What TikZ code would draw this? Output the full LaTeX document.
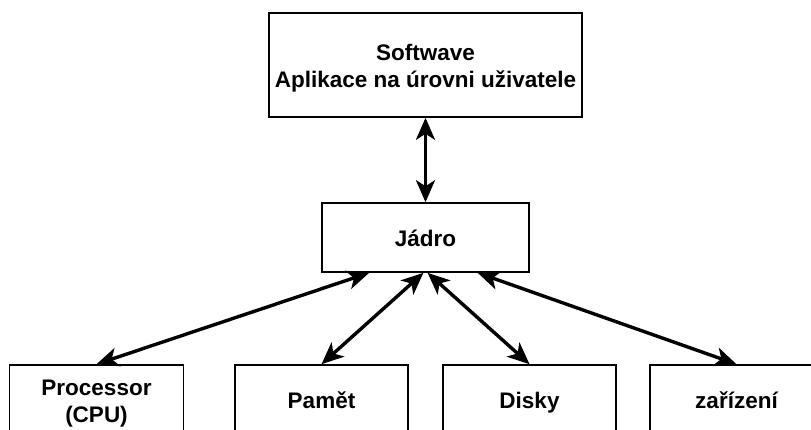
\documentclass[tikz,border=0pt]{standalone}
\usepackage{fontspec}
\setmainfont{Liberation Sans}
\usetikzlibrary{arrows.meta,calc}
% line strut that sits the text a little low in its line
\newcommand{\lstrut}{\rule[-4.6pt]{0pt}{27pt}}
\tikzset{
  box/.style={draw=black, line width=1.6pt, fill=white, rectangle, align=center,
    inner sep=0pt, font=\fontsize{22.5}{27}\selectfont\bfseries},
  link/.style={line width=3.4pt, {Stealth[length=22pt,width=19pt,inset=6pt]}-{Stealth[length=22pt,width=19pt,inset=6pt]}}
}
\begin{document}
\begin{tikzpicture}[x=1pt,y=-1pt]
\useasboundingbox (0,0) rectangle (811,429);
\clip (0,0) rectangle (811,429);
\fill[white] (0,0) rectangle (811,429);

% layers
\node[box, minimum width=313pt, minimum height=104pt] (app) at (425.5,65) {\lstrut Softwave\\\lstrut Aplikace na úrovni uživatele};
\node[box, minimum width=207pt, minimum height=69pt] (kernel) at (425.5,237.5) {\lstrut Jádro};

% hardware
\node[box, minimum width=174pt, minimum height=70pt] (cpu) at (96.5,400) {\lstrut Processor\\\lstrut (CPU)};
\node[box, minimum width=173pt, minimum height=70pt] (mem) at (321.5,400) {\lstrut Pamět};
\node[box, minimum width=173pt, minimum height=70pt] (disk) at (529.5,400) {\lstrut Disky};
\node[box, minimum width=173pt, minimum height=70pt] (dev) at (736.5,400) {\lstrut zařízení};

% attachment points on the kernel's lower edge
\coordinate (k1) at ($(kernel.south west)!0.23!(kernel.south east)$);
\coordinate (k2) at ($(kernel.south west)!0.49!(kernel.south east)$);
\coordinate (k3) at ($(kernel.south west)!0.51!(kernel.south east)$);
\coordinate (k4) at ($(kernel.south west)!0.75!(kernel.south east)$);

\draw[link] (app.south) -- (kernel.north);
\draw[link] (k1) -- (cpu.north);
\draw[link] (k2) -- (mem.north);
\draw[link] (k3) -- (disk.north);
\draw[link] (k4) -- (dev.north);
\end{tikzpicture}
\end{document}
